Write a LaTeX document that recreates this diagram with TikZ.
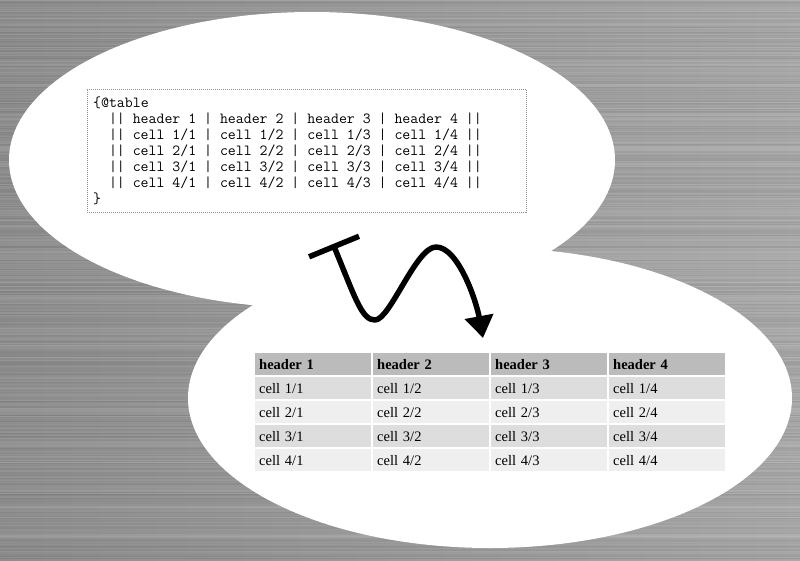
\documentclass[tikz,border=0pt]{standalone}
\usepackage{fontspec}
\usetikzlibrary{arrows.meta}
\newfontfamily\tabfont{Liberation Serif}
\definecolor{bgL}{HTML}{8E8E8E}
\definecolor{bgR}{HTML}{AAAAAA}
\definecolor{hdr}{HTML}{BBBBBB}
\definecolor{rowA}{HTML}{DDDDDD}
\definecolor{rowB}{HTML}{EFEFEF}
\definecolor{dotc}{HTML}{8C8C8C}
\tikzset{
  codeline/.style={anchor=base west, inner sep=0pt, font=\ttfamily\fontsize{15.4}{16}\selectfont},
  tcell/.style={anchor=north west, inner xsep=4pt, inner ysep=0pt, text width=108pt,
    minimum height=22pt, align=left, font=\tabfont\fontsize{14.5}{16}\selectfont},
  hcell/.style={tcell, fill=hdr, font=\tabfont\bfseries\fontsize{14.5}{16}\selectfont},
  row1/.style={fill=rowA}, row2/.style={fill=rowB}, row3/.style={fill=rowA}, row4/.style={fill=rowB},
  codebox/.style={draw=dotc, line width=0.8pt, dash pattern=on 1pt off 1pt, inner sep=0pt,
    minimum width=439pt, minimum height=123pt},
  wiggle/.style={line width=5.5pt, black, line join=round,
    {Bar[width=54pt]}-{Triangle[length=22pt,width=28pt]}}
}
\begin{document}
\begin{tikzpicture}[x=1pt,y=-1pt]
\useasboundingbox (0,0) rectangle (800,560);
% brushed metal background
\shade[left color=bgL, right color=bgR] (0,0) rectangle (800,560);
\pgfmathsetseed{7}
\begin{scope}
\clip (0,0) rectangle (800,560);
\foreach \i in {0,...,559} {
  \pgfmathsetmacro\oa{rnd*0.14}
  \pgfmathsetmacro\ob{rnd*0.10}
  \draw[white, line width=1.05pt, opacity=\oa] (0,\i+0.5) -- (800,\i+0.5);
  \draw[black, line width=1.05pt, opacity=\ob] (0,\i+0.5) -- (800,\i+0.5);
}
\end{scope}
% bubbles
\fill[white] (312,160) ellipse [x radius=303pt, y radius=148pt];
\fill[white] (490,398) ellipse [x radius=302pt, y radius=150pt];
% code box
\node[codebox] (box) at (306.5,150.5) {};
\node[codeline] (l0) at (93,107) {\{@table};
\node[codeline] (l1) at (108.8,123) {|| header 1 | header 2 | header 3 | header 4 ||};
\node[codeline] (l2) at (108.8,139) {|| cell 1/1 | cell 1/2 | cell 1/3 | cell 1/4 ||};
\node[codeline] (l3) at (108.8,155) {|| cell 2/1 | cell 2/2 | cell 2/3 | cell 2/4 ||};
\node[codeline] (l4) at (108.8,171) {|| cell 3/1 | cell 3/2 | cell 3/3 | cell 3/4 ||};
\node[codeline] (l5) at (108.8,187) {|| cell 4/1 | cell 4/2 | cell 4/3 | cell 4/4 ||};
\node[codeline] (l6) at (93,203) {\}};
% table
\foreach \c in {1,...,4} {
  \node[hcell] (h\c) at ({255+118*(\c-1)},353) {header \c};
  \foreach \r in {1,...,4} {
    \node[tcell, row\r] (c\r\c) at ({255+118*(\c-1)},{353+24*\r}) {cell \r/\c};
  }
}
% wiggly arrow
\coordinate (s) at (333,244);
\coordinate (b) at (375,320);
\coordinate (p) at (436,247);
\coordinate (e) at (483,338);
\draw[wiggle] (s) .. controls (356,300) and (362,320) .. (b)
  .. controls (390,320) and (416,247) .. (p)
  .. controls (458,247) and (476,300) .. (e);
\end{tikzpicture}
\end{document}
